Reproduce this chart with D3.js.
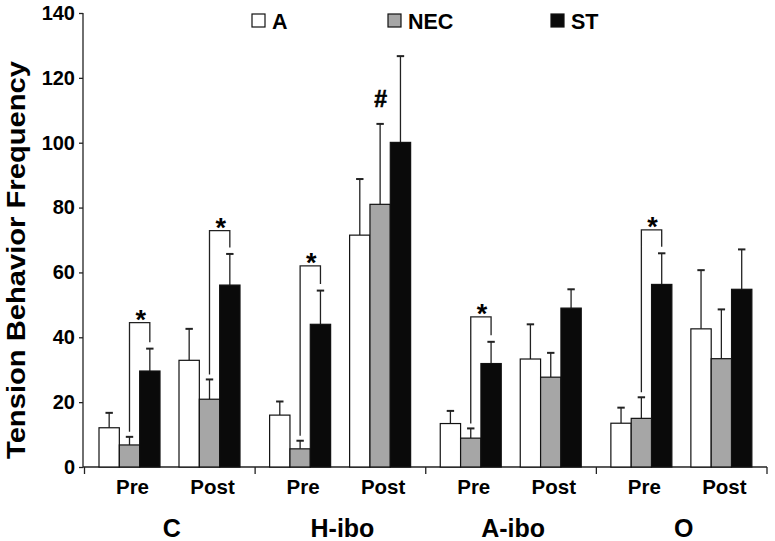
<!DOCTYPE html>
<html>
<head>
<meta charset="utf-8">
<script src="https://cdn.jsdelivr.net/npm/d3@7"></script>
<style>
  html, body { margin: 0; padding: 0; background: #fff; }
  svg { display: block; font-family: "Liberation Sans", Arial, sans-serif; font-weight: bold; }
</style>
</head>
<body>
<svg id="chart" width="775" height="541"></svg>
<script>
// ---- data ----
const groups = ["C", "H-ibo", "A-ibo", "O"];
const phases = ["Pre", "Post"];
const series = ["A", "NEC", "ST"];
// means per group/phase, order: C Pre, C Post, H Pre, H Post, A Pre, A Post, O Pre, O Post
const meanA   = [12.1, 32.9, 16.0, 71.5, 13.4, 33.3, 13.5, 42.6];
const meanNEC = [6.8, 20.9, 5.6, 81.0, 8.9, 27.7, 15.0, 33.4];
const meanST  = [29.6, 56.1, 44.0, 100.1, 31.9, 49.0, 56.3, 54.8];
const errA    = [4.6, 9.7, 4.2, 17.3, 3.9, 10.7, 4.8, 18.1];
const errNEC  = [2.5, 6.1, 2.5, 24.8, 3.0, 7.5, 6.5, 15.2];
const errST   = [6.9, 9.6, 10.4, 26.6, 6.7, 5.8, 9.6, 12.3];
const yTicks  = [0, 20, 40, 60, 80, 100, 120, 140];
// significance brackets (NEC vs ST): index into cells, bracket top value
const sigCells  = [0, 1, 2, 4, 6];
const sigLevels = [44.5, 72.9, 62.0, 46.3, 73.1];
// "#" marker
const hashCell = 3, hashSeries = "NEC";

const colors = { A: "#ffffff", NEC: "#a6a6a6", ST: "#0a0a0a" };
const means = { A: meanA, NEC: meanNEC, ST: meanST };
const errs  = { A: errA, NEC: errNEC, ST: errST };

const cells = [];
groups.forEach((g, gi) => phases.forEach((p, pi) => cells.push({ g, p, idx: gi * 2 + pi })));

const svg = d3.select("#chart");

const y = d3.scaleLinear().domain([0, 140]).range([467, 13]);
const xG = d3.scaleBand().domain(groups).range([84.5, 767]).padding(0);
const xP = d3.scaleBand().domain(phases).range([14.5, 155.5]).paddingInner(0.2375).paddingOuter(0);
const xS = d3.scaleBand().domain(series).range([0, xP.bandwidth()]).padding(0);

const barX = (c, s) => xG(c.g) + xP(c.p) + xS(s);
const barC = (c, s) => barX(c, s) + xS.bandwidth() / 2;

// ---- y axis ----
const yAxis = svg.append("g").attr("transform", "translate(83,0)")
  .call(d3.axisLeft(y).tickValues(yTicks).tickSize(4).tickPadding(4));
yAxis.select(".domain").attr("stroke", "#222").attr("stroke-width", 1.3).attr("d", "M0,13V467");
yAxis.selectAll(".tick line").attr("stroke", "#222").attr("stroke-width", 1.3);
yAxis.selectAll(".tick text").attr("font-size", 20).attr("font-weight", "bold")
  .attr("font-family", "Liberation Sans, Arial, sans-serif").attr("fill", "#000");

// ---- x axis ----
const xAxisG = svg.append("g");
xAxisG.append("line").attr("x1", 83).attr("x2", 767).attr("y1", 467).attr("y2", 467)
  .attr("stroke", "#222").attr("stroke-width", 1.3);
const bounds = groups.map(g => xG(g)).concat([xG(groups[groups.length - 1]) + xG.bandwidth()]);
xAxisG.selectAll("line.gt").data(bounds).join("line").attr("class", "gt")
  .attr("x1", d => d).attr("x2", d => d).attr("y1", 467).attr("y2", 474)
  .attr("stroke", "#222").attr("stroke-width", 1.3);

// phase labels
svg.selectAll("text.ph").data(cells).join("text").attr("class", "ph")
  .attr("x", c => xG(c.g) + xP(c.p) + xP.bandwidth() / 2 + 3)
  .attr("y", 494).attr("text-anchor", "middle").attr("font-size", 20.5)
  .text(c => c.p);
// group labels
svg.selectAll("text.gl").data(groups).join("text").attr("class", "gl")
  .attr("x", g => xG(g) + xG.bandwidth() / 2 + 2)
  .attr("y", 537).attr("text-anchor", "middle").attr("font-size", 25)
  .text(g => g);

// y title
svg.append("text")
  .attr("transform", "translate(25,260) rotate(-90)")
  .attr("text-anchor", "middle").attr("font-size", 26)
  .attr("textLength", 398).attr("lengthAdjust", "spacingAndGlyphs")
  .text("Tension Behavior Frequency");

// ---- bars ----
const barData = [];
cells.forEach(c => series.forEach(s => barData.push({ c, s, v: means[s][c.idx], e: errs[s][c.idx] })));

// error bars (drawn behind bars so they start at the bar top)
const eb = svg.append("g");
eb.selectAll("line.ev").data(barData).join("line").attr("class", "ev")
  .attr("x1", d => barC(d.c, d.s)).attr("x2", d => barC(d.c, d.s))
  .attr("y1", d => y(d.v)).attr("y2", d => y(d.v + d.e))
  .attr("stroke", "#222").attr("stroke-width", 1.3);
eb.selectAll("line.ec").data(barData).join("line").attr("class", "ec")
  .attr("x1", d => barC(d.c, d.s) - 3.7).attr("x2", d => barC(d.c, d.s) + 3.7)
  .attr("y1", d => y(d.v + d.e)).attr("y2", d => y(d.v + d.e))
  .attr("stroke", "#222").attr("stroke-width", 2);

svg.append("g").selectAll("rect").data(barData).join("rect")
  .attr("x", d => barX(d.c, d.s)).attr("width", xS.bandwidth())
  .attr("y", d => y(d.v)).attr("height", d => y(0) - y(d.v))
  .attr("fill", d => colors[d.s]).attr("stroke", "#111").attr("stroke-width", 1.2);

// ---- significance brackets ----
const br = svg.append("g");
sigCells.forEach((ci, k) => {
  const c = cells[ci];
  const xl = barC(c, "NEC"), xr = barC(c, "ST");
  const top = y(sigLevels[k]);
  const lb = y(meanNEC[ci] + errNEC[ci]) - 5;
  const rb = y(meanST[ci] + errST[ci]) - 6.5;
  br.append("path").attr("d", `M${xl},${lb}V${top}H${xr}V${rb}`)
    .attr("fill", "none").attr("stroke", "#222").attr("stroke-width", 1.3);
  br.append("text").attr("x", (xl + xr) / 2 + 1).attr("y", top + 6)
    .attr("text-anchor", "middle").attr("font-size", 27).text("*");
});
// hash
{
  const c = cells[hashCell];
  svg.append("text").attr("x", barC(c, hashSeries) + 0.5)
    .attr("y", y(meanNEC[hashCell] + errNEC[hashCell]) - 17)
    .attr("text-anchor", "middle").attr("font-size", 23)
    .attr("stroke", "#000").attr("stroke-width", 0.6).text("#");
}

// ---- legend ----
const legX = [252, 388, 551];
const leg = svg.append("g");
series.forEach((s, i) => {
  leg.append("rect").attr("x", legX[i]).attr("y", 14).attr("width", 13).attr("height", 13)
    .attr("fill", colors[s]).attr("stroke", "#111").attr("stroke-width", 1.2);
  leg.append("text").attr("x", legX[i] + 20).attr("y", 28.5).attr("font-size", 21.5).text(s);
});
</script>
</body>
</html>
